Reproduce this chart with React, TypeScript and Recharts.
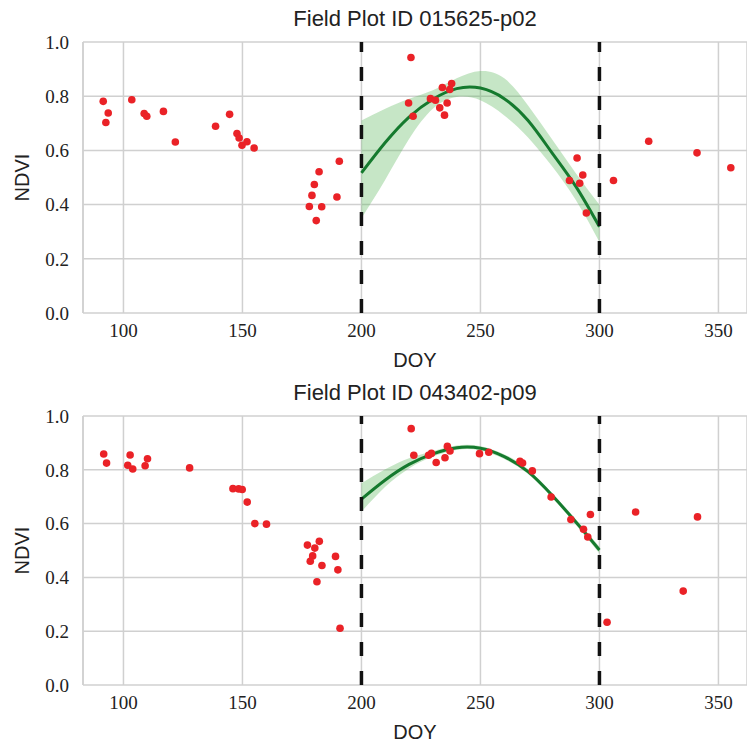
import { Area, CartesianGrid, ComposedChart, Line, ReferenceLine, Scatter, XAxis, YAxis } from 'recharts';

// DOY / NDVI observations, plot 015625-p02
const topDoy = [91.5, 93.6, 92.6, 103.5, 108.7, 109.8, 116.8, 121.8, 138.7, 144.6, 147.7, 148.6, 149.8, 151.9, 154.9,
  178.1, 179.2, 180.2, 182.2, 181.0, 183.3, 189.7, 190.7,
  220.8, 219.8, 221.7, 229.0, 231.1, 232.9, 234.0, 234.9, 236.0, 237.1, 237.9,
  287.4, 290.6, 291.7, 293.0, 294.5, 305.9, 320.7, 341.0, 355.2];
const topNdvi = [0.781, 0.738, 0.703, 0.787, 0.736, 0.726, 0.744, 0.631, 0.689, 0.733, 0.662, 0.646, 0.619, 0.632, 0.609,
  0.393, 0.434, 0.474, 0.521, 0.341, 0.392, 0.428, 0.560,
  0.943, 0.775, 0.726, 0.791, 0.785, 0.757, 0.832, 0.730, 0.775, 0.825, 0.847,
  0.489, 0.572, 0.479, 0.509, 0.369, 0.489, 0.634, 0.591, 0.536];

// DOY / NDVI observations, plot 043402-p09
const botDoy = [91.7, 92.9, 102.8, 101.8, 103.9, 110.1, 109.1, 127.8, 146.0, 148.4, 149.9, 152.0, 155.2, 160.1,
  177.3, 180.4, 182.3, 179.5, 178.5, 183.4, 181.3, 189.1, 190.1, 191.0,
  220.9, 222.0, 228.2, 229.4, 231.4, 235.1, 236.1, 237.2, 249.6, 253.5, 266.6, 267.7, 271.8, 279.7,
  288.0, 293.3, 295.1, 296.2, 303.2, 315.2, 335.2, 341.2];
const botNdvi = [0.859, 0.825, 0.855, 0.817, 0.803, 0.841, 0.815, 0.807, 0.730, 0.729, 0.727, 0.680, 0.600, 0.598,
  0.520, 0.509, 0.534, 0.480, 0.460, 0.444, 0.384, 0.478, 0.428, 0.211,
  0.953, 0.854, 0.854, 0.861, 0.827, 0.845, 0.887, 0.870, 0.860, 0.865, 0.832, 0.825, 0.796, 0.699,
  0.615, 0.579, 0.550, 0.634, 0.233, 0.643, 0.349, 0.625];

// fitted curve and confidence band between the two dashed lines
const fitDoy = [200, 210, 220, 230, 240, 250, 260, 270, 280, 290, 300];
const topFit = [0.517, 0.629, 0.723, 0.789, 0.828, 0.830, 0.791, 0.710, 0.592, 0.468, 0.318];
const topHi = [0.710, 0.754, 0.791, 0.822, 0.866, 0.893, 0.866, 0.766, 0.642, 0.517, 0.399];
const topLo = [0.350, 0.492, 0.642, 0.754, 0.797, 0.785, 0.729, 0.648, 0.542, 0.418, 0.262];
const botFit = [0.691, 0.762, 0.820, 0.859, 0.882, 0.880, 0.849, 0.793, 0.706, 0.607, 0.502];
const botHi = [0.750, 0.802, 0.843, 0.869, 0.890, 0.888, 0.858, 0.802, 0.715, 0.617, 0.514];
const botLo = [0.644, 0.737, 0.805, 0.849, 0.874, 0.872, 0.840, 0.784, 0.697, 0.597, 0.489];

const xTicks = [100, 150, 200, 250, 300, 350];
const yTicks = [0, 0.2, 0.4, 0.6, 0.8, 1.0];
const windowDoy = [200, 300];

const tickStyle = { fill: '#222', fontSize: 19, fontFamily: '"Liberation Serif", serif' };
const labelFont = '"Liberation Sans", "DejaVu Sans", sans-serif';

function NdviPanel({ title, doy, ndvi, fit, lo, hi, marginTop }: {
  title: string; doy: number[]; ndvi: number[]; fit: number[]; lo: number[]; hi: number[]; marginTop: number;
}) {
  const points = doy.map((x, i) => ({ x, y: ndvi[i] }));
  const curve = fitDoy.map((x, i) => ({ x, y: fit[i], lo: lo[i], hi: hi[i] }));

  return (
    <div style={{ position: 'relative', width: 747, height: 372 }}>
      <div style={{ position: 'absolute', top: marginTop - 36, left: 83, right: 0, textAlign: 'center', fontFamily: labelFont, fontSize: 22, lineHeight: '26px', color: '#222' }}>
        {title}
      </div>
      <ComposedChart width={747} height={372} margin={{ top: marginTop, right: 0, bottom: 0, left: 23 }}>
        <CartesianGrid stroke="#d0d0d0" strokeWidth={1.5} />
        <XAxis
          type="number"
          dataKey="x"
          domain={[83, 362]}
          ticks={xTicks}
          allowDataOverflow
          height={59}
          axisLine={false}
          tickLine={false}
          tickSize={0}
          tickMargin={11}
          tick={tickStyle}
          label={{ value: 'DOY', position: 'insideBottom', offset: 5, fill: '#222', fontSize: 20, fontFamily: labelFont }}
        />
        <YAxis
          type="number"
          domain={[0, 1]}
          ticks={yTicks}
          width={60}
          axisLine={{ stroke: '#d0d0d0', strokeWidth: 1.5 }}
          tickLine={false}
          tickSize={0}
          tickMargin={14}
          tick={tickStyle}
          tickFormatter={(v: number) => v.toFixed(1)}
          label={{ value: 'NDVI', angle: -90, position: 'insideLeft', offset: -1, fill: '#222', fontSize: 20, fontFamily: labelFont, style: { textAnchor: 'middle' } }}
        />
        <Area
          data={curve}
          dataKey={(d: { lo: number; hi: number }) => [d.lo, d.hi]}
          type="natural"
          stroke="none"
          fill="#5cb85c"
          fillOpacity={0.35}
          isAnimationActive={false}
        />
        <Line
          data={curve}
          dataKey="y"
          type="natural"
          stroke="#157a2e"
          strokeWidth={3}
          dot={false}
          isAnimationActive={false}
        />
        <Scatter data={points} dataKey="y" fill="#ea2227" shape={(p: any) => <circle cx={p.cx} cy={p.cy} r={3.8} fill="#ea2227" />} isAnimationActive={false} />
        {windowDoy.map((x) => (
          <ReferenceLine key={x} x={x} stroke="#111" strokeWidth={3.5} strokeDasharray="14 15" />
        ))}
      </ComposedChart>
    </div>
  );
}

export default function App() {
  return (
    <div style={{ position: 'absolute', left: 0, top: 0, width: 747, height: 744, background: '#fff' }}>
      <NdviPanel title="Field Plot ID 015625-p02" doy={topDoy} ndvi={topNdvi} fit={topFit} lo={topLo} hi={topHi} marginTop={42} />
      <NdviPanel title="Field Plot ID 043402-p09" doy={botDoy} ndvi={botNdvi} fit={botFit} lo={botLo} hi={botHi} marginTop={44} />
    </div>
  );
}
